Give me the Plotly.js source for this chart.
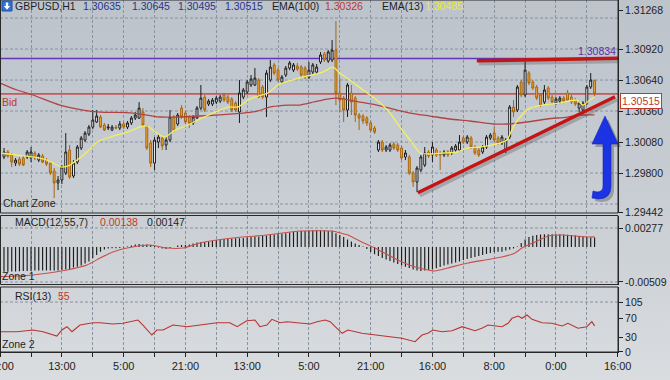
<!DOCTYPE html>
<html>
<head>
<meta charset="utf-8">
<script src="https://cdn.plot.ly/plotly-3.0.1.min.js"></script>
<style>
  html, body { margin: 0; padding: 0; }
  body { width: 670px; height: 380px; overflow: hidden;
         background: linear-gradient(180deg, #bcc3cb 0%, #c7ccd2 45%, #d2d6da 80%, #dadde0 100%); }
  #chart { width: 670px; height: 380px; }
</style>
</head>
<body>
<div id="chart"></div>
<script>
// ---------------- DATA ----------------
const open = [
1.29945,1.29990,1.29963,1.29890,1.29926,1.29936,1.29945,1.29936,1.29981,1.29917,
1.29954,1.29917,1.29890,1.29818,1.29710,1.29737,1.29800,1.30008,1.29773,1.29899,
1.30026,1.30098,1.30152,1.30215,1.30261,1.30306,1.30234,1.30206,1.30188,1.30215,
1.30206,1.30243,1.30215,1.30252,1.30297,1.30297,1.30351,1.30225,1.30071,1.29890,
1.30080,1.30116,1.30053,1.30098,1.30306,1.30243,1.30387,1.30342,1.30306,1.30252,
1.30297,1.30387,1.30486,1.30423,1.30423,1.30441,1.30450,1.30505,1.30486,1.30468,
1.30432,1.30351,1.30486,1.30532,1.30595,1.30595,1.30640,1.30577,1.30486,1.30640,
1.30776,1.30730,1.30622,1.30685,1.30748,1.30730,1.30767,1.30757,1.30748,1.30667,
1.30712,1.30712,1.30803,1.30875,1.30812,1.30821,1.30911,1.30523,1.30477,1.30369,
1.30523,1.30477,1.30324,1.30315,1.30297,1.30252,1.30206,1.30008,1.30080,1.30008,
1.30008,1.30062,1.30053,1.30026,1.29945,1.29945,1.29800,1.29719,1.29827,1.29872,
1.29990,1.29963,1.30008,1.29981,1.29963,1.29990,1.29981,1.30008,1.30008,1.30116,
1.30080,1.30116,1.30035,1.30008,1.29990,1.30035,1.30116,1.30161,1.30116,1.30071,
1.30008,1.30125,1.30396,1.30369,1.30622,1.30505,1.30703,1.30622,1.30577,1.30505,
1.30441,1.30568,1.30486,1.30432,1.30450,1.30477,1.30523,1.30486,1.30459,1.30387,
1.30369,1.30432,1.30577,1.30635];
const high = [
1.30026,1.30008,1.29981,1.29936,1.29945,1.29954,1.30008,1.30035,1.29999,1.29981,
1.29972,1.29936,1.29908,1.29845,1.29773,1.29872,1.30161,1.30053,1.29917,1.30053,
1.30134,1.30179,1.30234,1.30369,1.30369,1.30324,1.30252,1.30243,1.30234,1.30234,
1.30270,1.30261,1.30270,1.30315,1.30351,1.30441,1.30387,1.30234,1.30098,1.30125,
1.30152,1.30134,1.30125,1.30369,1.30324,1.30342,1.30414,1.30360,1.30324,1.30324,
1.30405,1.30595,1.30505,1.30468,1.30477,1.30495,1.30505,1.30523,1.30505,1.30486,
1.30450,1.30640,1.30568,1.30640,1.30685,1.30748,1.30658,1.30595,1.30730,1.30821,
1.30794,1.30748,1.30685,1.30767,1.30812,1.30794,1.30794,1.30776,1.30767,1.30803,
1.30794,1.30785,1.30893,1.30893,1.30911,1.31001,1.31173,1.30658,1.30495,1.30613,
1.30595,1.30495,1.30342,1.30333,1.30315,1.30270,1.30225,1.30098,1.30098,1.30053,
1.30071,1.30080,1.30071,1.30044,1.30008,1.29963,1.29818,1.29863,1.29963,1.30035,
1.30008,1.30080,1.30026,1.29999,1.30008,1.30008,1.30044,1.30062,1.30143,1.30134,
1.30143,1.30134,1.30053,1.30026,1.30053,1.30143,1.30161,1.30215,1.30134,1.30143,
1.30116,1.30414,1.30459,1.30595,1.30640,1.30803,1.30721,1.30640,1.30595,1.30523,
1.30595,1.30586,1.30505,1.30486,1.30495,1.30495,1.30550,1.30505,1.30477,1.30450,
1.30450,1.30595,1.30703,1.30645];
const low = [
1.29926,1.29936,1.29854,1.29863,1.29863,1.29863,1.29926,1.29899,1.29917,1.29899,
1.29890,1.29863,1.29782,1.29574,1.29646,1.29701,1.29782,1.29746,1.29755,1.29881,
1.30008,1.30080,1.30134,1.30197,1.30252,1.30206,1.30179,1.30188,1.30179,1.30197,
1.30188,1.30197,1.30197,1.30234,1.30279,1.30288,1.30225,1.30008,1.29854,1.29827,
1.30026,1.30008,1.30008,1.30080,1.30170,1.30225,1.30288,1.30243,1.30206,1.30234,
1.30288,1.30369,1.30351,1.30405,1.30405,1.30423,1.30432,1.30441,1.30423,1.30351,
1.30351,1.30252,1.30468,1.30514,1.30577,1.30586,1.30477,1.30468,1.30306,1.30622,
1.30685,1.30622,1.30604,1.30667,1.30730,1.30712,1.30721,1.30667,1.30649,1.30649,
1.30694,1.30694,1.30785,1.30803,1.30794,1.30803,1.30414,1.30351,1.30261,1.30306,
1.30324,1.30261,1.30188,1.30243,1.30225,1.30170,1.30152,1.29990,1.29990,1.29990,
1.29990,1.30008,1.29990,1.29917,1.29917,1.29782,1.29674,1.29628,1.29809,1.29854,
1.29936,1.29899,1.29945,1.29827,1.29945,1.29945,1.29963,1.29990,1.29990,1.30062,
1.30062,1.30017,1.29963,1.29945,1.29972,1.30017,1.30098,1.30080,1.30053,1.30053,
1.29981,1.30107,1.30306,1.30351,1.30486,1.30486,1.30595,1.30550,1.30459,1.30396,
1.30423,1.30459,1.30423,1.30414,1.30423,1.30432,1.30441,1.30423,1.30405,1.30351,
1.30351,1.30414,1.30559,1.30495];
const close = [
1.29990,1.29954,1.29899,1.29917,1.29881,1.29872,1.29990,1.29990,1.29936,1.29963,
1.29899,1.29881,1.29800,1.29710,1.29737,1.29854,1.29990,1.29764,1.29890,1.30035,
1.30116,1.30161,1.30215,1.30279,1.30315,1.30215,1.30188,1.30215,1.30215,1.30206,
1.30243,1.30215,1.30252,1.30297,1.30324,1.30387,1.30234,1.30026,1.29890,1.30098,
1.30125,1.30044,1.30098,1.30306,1.30188,1.30324,1.30306,1.30261,1.30252,1.30306,
1.30387,1.30477,1.30369,1.30450,1.30459,1.30477,1.30486,1.30459,1.30441,1.30369,
1.30369,1.30523,1.30550,1.30622,1.30649,1.30658,1.30486,1.30486,1.30703,1.30757,
1.30703,1.30640,1.30667,1.30748,1.30794,1.30776,1.30739,1.30685,1.30667,1.30730,
1.30776,1.30757,1.30866,1.30821,1.30893,1.30911,1.30523,1.30459,1.30369,1.30595,
1.30441,1.30324,1.30297,1.30270,1.30252,1.30188,1.30170,1.30080,1.30008,1.30035,
1.30053,1.30026,1.30008,1.29936,1.29981,1.29800,1.29719,1.29845,1.29945,1.29981,
1.29954,1.30035,1.29963,1.29963,1.29990,1.29963,1.30026,1.30044,1.30080,1.30080,
1.30125,1.30035,1.29981,1.29963,1.30035,1.30125,1.30143,1.30098,1.30071,1.30125,
1.30098,1.30396,1.30351,1.30577,1.30505,1.30730,1.30613,1.30568,1.30477,1.30414,
1.30550,1.30477,1.30441,1.30468,1.30477,1.30450,1.30459,1.30441,1.30423,1.30432,
1.30432,1.30577,1.30640,1.30515];

const ema100X = [-1,3.4,7.5,14.5,20.5,24.9,33.4,40.4,50.8,61.1,65,69.4,73.6,76.7,80.6,83.7,86.3,92.2,96.6,101.8,105.2,110.4,115.5,120.7,126.7,130.3,135.5,140.7,145.9,149.2,153];
const ema100Y = [1.30613,1.30550,1.30505,1.30414,1.30369,1.30351,1.30342,1.30306,1.30315,1.30339,1.30354,1.30399,1.30414,1.30414,1.30444,1.30468,1.30477,1.30441,1.30414,1.30369,1.30342,1.30315,1.30288,1.30270,1.30243,1.30243,1.30261,1.30288,1.30306,1.30324,1.30326];

const ema13X = [-1,3.4,7.5,11.1,12.7,15,17.1,18.9,21.5,24.1,27.5,31.9,35.2,37,39.6,41.7,44.3,47.7,51.3,54.7,58,60.6,63.2,65.8,68.4,71,74.6,77.2,79.8,82.6,85.2,87,89.6,93,96.6,100,102.6,105.2,107.8,110.4,113.7,117.4,119.9,123.3,128.5,130.3,131.9,133.7,136.3,139.6,144,148.4,150,151.8,153];
const ema13Y = [1.29981,1.29963,1.29945,1.29917,1.29890,1.29854,1.29872,1.29917,1.29990,1.30080,1.30125,1.30170,1.30215,1.30225,1.30161,1.30125,1.30188,1.30234,1.30297,1.30351,1.30396,1.30396,1.30459,1.30495,1.30523,1.30595,1.30640,1.30667,1.30685,1.30712,1.30757,1.30703,1.30640,1.30550,1.30459,1.30342,1.30215,1.30098,1.29981,1.29972,1.29981,1.29990,1.30026,1.30035,1.30071,1.30098,1.30215,1.30306,1.30387,1.30414,1.30432,1.30459,1.30414,1.30459,1.30485];

const macdHist = [
-0.00360,-0.00360,-0.00357,-0.00357,-0.00354,-0.00349,-0.00349,-0.00349,-0.00342,-0.00342,
-0.00342,-0.00342,-0.00342,-0.00342,-0.00342,-0.00335,-0.00328,-0.00320,-0.00298,-0.00287,
-0.00269,-0.00240,-0.00211,-0.00160,-0.00116,-0.00068,-0.00036,-0.00022,-0.00019,-0.00019,
-0.00015,-0.00007,0.00007,0.00022,0.00036,0.00044,0.00036,0.00036,0.00029,0.00015,
-0.00007,-0.00022,-0.00029,-0.00015,0.00002,0.00022,0.00029,0.00029,0.00036,0.00051,
0.00066,0.00073,0.00073,0.00080,0.00087,0.00102,0.00109,0.00116,0.00116,0.00124,
0.00127,0.00127,0.00131,0.00138,0.00146,0.00153,0.00153,0.00160,0.00167,0.00175,
0.00182,0.00189,0.00197,0.00199,0.00211,0.00218,0.00226,0.00233,0.00233,0.00240,
0.00240,0.00243,0.00243,0.00240,0.00233,0.00233,0.00199,0.00175,0.00146,0.00109,
0.00080,0.00051,0.00029,0.00007,-0.00029,-0.00073,-0.00106,-0.00131,-0.00160,-0.00182,
-0.00204,-0.00226,-0.00248,-0.00269,-0.00287,-0.00306,-0.00328,-0.00342,-0.00349,-0.00342,
-0.00335,-0.00328,-0.00310,-0.00291,-0.00269,-0.00255,-0.00240,-0.00226,-0.00211,-0.00189,
-0.00175,-0.00160,-0.00146,-0.00131,-0.00116,-0.00102,-0.00087,-0.00077,-0.00068,-0.00068,
-0.00051,-0.00036,-0.00022,0.00007,0.00058,0.00109,0.00146,0.00165,0.00175,0.00182,
0.00185,0.00185,0.00185,0.00185,0.00185,0.00182,0.00179,0.00175,0.00167,0.00160,
0.00150,0.00146,0.00141,0.00138];
const signalX = [-1,7.5,16.3,21.5,24.9,28.2,31.9,37.8,42.2,46.4,50.8,59.3,68.1,76.7,85.2,85.8,89.1,92.7,96.1,99.5,103.1,106.5,109.8,111.7,115,120.2,124.6,129,132.4,134.2,137.6,141,144.6,148,151.3,153];
const signalY = [-0.00432,-0.00408,-0.00335,-0.00262,-0.00160,-0.00073,-0.00015,0.00029,-0.00015,-0.00015,0.00058,0.00131,0.00175,0.00233,0.00233,0.00225,0.00175,0.00073,-0.00015,-0.00116,-0.00218,-0.00291,-0.00335,-0.00349,-0.00306,-0.00233,-0.00189,-0.00146,-0.00087,-0.00015,0.00073,0.00160,0.00175,0.00160,0.00146,0.00147];

const rsiX = [-1,3.4,7.5,10.1,13.7,15,16.3,17.6,19.7,23.1,24.9,28.2,30.8,34.7,36,38.3,39.6,41.2,43.8,47.4,50.8,55.2,58.5,60.4,62.9,65,66.3,68.1,69.4,71.5,73.3,76.7,79.3,81.1,83.2,84.5,85.2,85.8,87.6,89.1,92.7,96.1,99.5,103.1,106.5,108.3,109.8,111.1,113.5,116.1,118.7,122,123.8,125.4,129,130.6,131.6,133.2,134.2,135.5,136.8,139.4,141.9,144.6,146.1,148.7,151,152.3,153];
const rsiY = [42.6,42.6,46.2,42.6,33.6,46.2,53.2,42.6,56.7,61.6,61.6,58.8,60.3,67.2,56.7,35.7,46.2,46.2,56.7,53.2,56.7,61.6,61.6,53.2,65.8,67.2,53.2,56.7,68.7,61.6,63.7,61.6,58.8,63.7,67.2,63.7,56.7,53.2,39.3,46.2,39.3,35.7,32.1,28.8,21.6,35.7,39.3,46.2,42.6,44.7,53.2,44.7,49.8,56.7,53.2,60.3,70.8,75.6,70.8,77.7,68.7,61.6,60.3,54.6,60.3,49.8,53.2,63.7,55];

const timeTickIdx  = [-1,7,15,23,31,39,47,55,63,71,79,87,95,103,111,119,127,135,143,151,159];
const timeTickText = ['21:00','','13:00','','5:00','','21:00','','13:00','','5:00','','21:00','','16:00','','8:00','','0:00','','16:00'];
const priceTicks = [1.29442,1.29800,1.30080,1.30360,1.30640,1.30920,1.31268];
const priceGrid  = [1.29520,1.29800,1.30080,1.30360,1.30640,1.30920,1.31200];
const macdTicks  = [-0.00509,0.00277];
const rsiTicks   = [0,30,70,105];
const levelLine  = 1.30834;
const bidPrice   = 1.30515;
const trendX = [[122.5,159.07],[107.2,158.3]];
const trendY = [[1.30814,1.30836],[1.29622,1.30489]];

// ---------------- CHART ----------------
const FONT = "'Liberation Sans',Arial,sans-serif";
const FS = 10.5;
const PW = 618, PH = 352;
const px = x => x / PW;
const py = y => (PH - y) / PH;
const bars = close.map((_, i) => i);

const traces = [
  { type:'candlestick', x:bars, open, high, low, close, xaxis:'x', yaxis:'y',
    increasing:{ line:{color:'#1c1c1c', width:1}, fillcolor:'#ffffff' },
    decreasing:{ line:{color:'#a8660e', width:1}, fillcolor:'#eea43a' },
    whiskerwidth:0, hoverinfo:'skip', showlegend:false },
  { type:'scatter', mode:'lines', x:ema100X, y:ema100Y, xaxis:'x', yaxis:'y',
    line:{color:'#b04444', width:1.3, shape:'spline', smoothing:0.8}, hoverinfo:'skip', showlegend:false },
  { type:'scatter', mode:'lines', x:ema13X, y:ema13Y, xaxis:'x', yaxis:'y',
    line:{color:'#f3ef5e', width:1.3, shape:'spline', smoothing:0.6}, hoverinfo:'skip', showlegend:false },
  { type:'bar', x:bars, y:macdHist, xaxis:'x', yaxis:'y2', width:0.3,
    marker:{color:'#1c1c1c', line:{width:0}}, hoverinfo:'skip', showlegend:false },
  { type:'scatter', mode:'lines', x:signalX, y:signalY, xaxis:'x', yaxis:'y2',
    line:{color:'#c8504a', width:1.1, shape:'spline', smoothing:0.6}, hoverinfo:'skip', showlegend:false },
  { type:'scatter', mode:'lines', x:rsiX, y:rsiY, xaxis:'x', yaxis:'y3',
    line:{color:'#b83434', width:1.1}, hoverinfo:'skip', showlegend:false }
];

const tickfont = { family:FONT, size:FS, color:'#1e1e1e' };
const gridLine = { color:'#8893a2', width:1, dash:'3px,2px' };
const yCommon = { side:'right', anchor:'x', tickmode:'array', ticks:'outside', ticklen:4, tickcolor:'#222',
  showline:true, linecolor:'#222', linewidth:1, showgrid:false, zeroline:false, tickfont, fixedrange:true,
  ticklabeloverflow:'allow' };

const shapes = [];
priceGrid.forEach(v => shapes.push({type:'line', xref:'paper', yref:'y', x0:0, x1:1, y0:v, y1:v, line:gridLine, layer:'below'}));
macdTicks.forEach(v => shapes.push({type:'line', xref:'paper', yref:'y2', x0:0, x1:1, y0:v, y1:v, line:gridLine, layer:'below'}));
shapes.push({type:'line', xref:'paper', yref:'y3', x0:0, x1:1, y0:105, y1:105, line:gridLine, layer:'below'});
shapes.push({type:'line', xref:'paper', yref:'y', x0:0, x1:1, y0:levelLine, y1:levelLine, line:{color:'#6434b8', width:1.5}, layer:'below'});
shapes.push({type:'line', xref:'paper', yref:'y', x0:0, x1:1, y0:bidPrice, y1:bidPrice, line:{color:'#c45a5a', width:1.6}, layer:'below'});
trendX.forEach((tx, k) => {
  const ty = trendY[k];
  shapes.push({type:'line', xref:'x', yref:'y', x0:tx[0]+0.5, x1:tx[1]+0.5, y0:ty[0]-0.00025, y1:ty[1]-0.00025,
    line:{color:'rgba(50,50,50,0.25)', width:4}, layer:'above'});
  shapes.push({type:'line', xref:'x', yref:'y', x0:tx[0], x1:tx[1], y0:ty[0], y1:ty[1],
    line:{color:'#c41414', width:3.5}, layer:'above'});
});
const arrowPts = [['M',605,116],['L',618,144],['L',611,144],['L',611,186],['Q',611,199,598,199],['L',592,198],['L',593,191],['L',597,192],['Q',603,192,603,186],['L',603,144],['L',592,144]];
function arrowPath(dx, dy) {
  return arrowPts.map(p => {
    let s = p[0];
    for (let j = 1; j < p.length; j += 2) s += ' ' + px(p[j]+dx).toFixed(5) + ',' + py(p[j+1]+dy).toFixed(5);
    return s;
  }).join(' ') + ' Z';
}
shapes.push({type:'path', xref:'paper', yref:'paper', path:arrowPath(3,3), fillcolor:'rgba(40,40,40,0.3)', line:{width:0}, layer:'above'});
shapes.push({type:'path', xref:'paper', yref:'paper', path:arrowPath(0,0), fillcolor:'#1c33e4', line:{color:'#1326b8', width:0.6}, layer:'above'});
[[0,213],[215.5,284.5],[287,352]].forEach(b => shapes.push({type:'rect', xref:'paper', yref:'paper',
  x0:px(0.5), x1:1, y0:py(b[1]), y1:py(b[0]), line:{color:'#2a2a2a', width:1}, fillcolor:'rgba(0,0,0,0)', layer:'above'}));
shapes.push({type:'rect', xref:'paper', yref:'paper', x0:px(2), x1:px(12), y0:py(11), y1:py(1), fillcolor:'#3172d6', line:{color:'#1d4f9e', width:1}, layer:'above'});
shapes.push({type:'path', xref:'paper', yref:'paper',
  path:'M '+px(5.8)+','+py(2.5)+' L '+px(8.2)+','+py(2.5)+' L '+px(8.2)+','+py(6)+' L '+px(10.2)+','+py(6)+' L '+px(7)+','+py(9.8)+' L '+px(3.8)+','+py(6)+' L '+px(5.8)+','+py(6)+' Z',
  fillcolor:'#ffffff', line:{width:0}, layer:'above'});

function ann(text, x, y, color, anchor) {
  return { xref:'paper', yref:'paper', x:px(x), y:py(y), xanchor:anchor || 'left', yanchor:'middle',
    text, showarrow:false, font:{family:FONT, size:FS, color} };
}
const NAVY = '#27358c', DARK = '#1e1e1e', RED = '#c0392b';
const annotations = [
  ann('GBPUSD,H1', 13, 6, DARK),
  ann('1.30635', 81, 6, NAVY),
  ann('1.30645', 130, 6, NAVY),
  ann('1.30495', 176, 6, NAVY),
  ann('1.30515', 223, 6, NAVY),
  ann('EMA(100)', 270, 6, DARK),
  ann('1.30326', 323, 6, RED),
  ann('EMA(13)', 380, 6, DARK),
  ann('1.30485', 423, 6, '#eeee10'),
  ann('1.30834', 618, 51, '#5b2ea6', 'right'),
  ann('Bid', 0, 102, RED),
  ann('Chart Zone', 1, 203, DARK),
  ann('MACD(12,55,7)', 13, 222, DARK),
  ann('0.00138', 98, 222, RED),
  ann('0.00147', 145, 222, DARK),
  ann('Zone 1', 0, 276, DARK),
  ann('RSI(13)', 13, 296, DARK),
  ann('55', 56, 296, RED),
  ann('Zone 2', 0, 344, DARK),
  Object.assign(ann('1.30515', 620, 100.5, RED), {bgcolor:'#ffffff', bordercolor:'#c0392b', borderwidth:1, borderpad:1})
];

const layout = {
  width:670, height:380,
  margin:{l:0, r:52, t:0, b:28, pad:0},
  paper_bgcolor:'rgba(0,0,0,0)', plot_bgcolor:'rgba(0,0,0,0)',
  showlegend:false, hovermode:false, dragmode:false,
  xaxis:{ domain:[0,1], range:[-1.036,159.07], anchor:'y3', tickmode:'array',
    tickvals:timeTickIdx, ticktext:timeTickText, ticks:'outside', ticklen:4, tickcolor:'#222',
    showline:true, linecolor:'#222', linewidth:1, showgrid:true, gridcolor:'#8893a2', griddash:'3px,2px', gridwidth:1,
    zeroline:false, tickfont:{family:FONT, size:11, color:'#1e1e1e'}, rangeslider:{visible:false}, fixedrange:true,
    tickangle:0, ticklabeloverflow:'allow' },
  yaxis: Object.assign({}, yCommon, { domain:[0.39489,1], range:[1.29439,1.31363],
    tickvals:priceTicks, ticktext:priceTicks.map(v => v.toFixed(5)) }),
  yaxis2: Object.assign({}, yCommon, { domain:[0.19176,0.38778], range:[-0.00546,0.00459],
    tickvals:macdTicks, ticktext:macdTicks.map(v => v.toFixed(5)) }),
  yaxis3: Object.assign({}, yCommon, { domain:[0,0.18466], range:[0,136.6],
    tickvals:rsiTicks, ticktext:rsiTicks.map(String) }),
  shapes, annotations
};

Plotly.newPlot('chart', traces, layout, {staticPlot:true, displayModeBar:false});
</script>
</body>
</html>
